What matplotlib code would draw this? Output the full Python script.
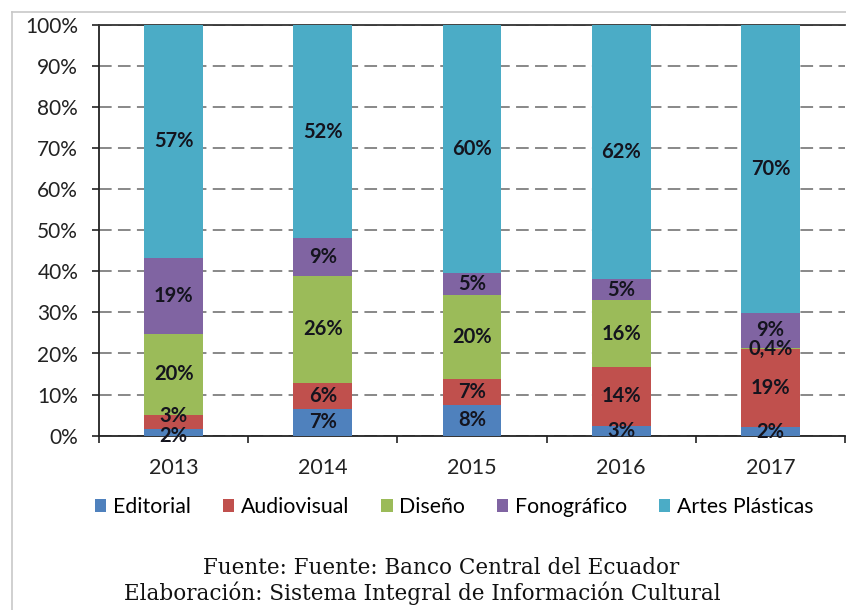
import numpy as np
import matplotlib
matplotlib.use("Agg")
import matplotlib.pyplot as plt
from matplotlib.lines import Line2D
from matplotlib.patches import Patch

plt.rcParams['font.family'] = ['Lato', 'DejaVu Sans']

# Datos (porcentaje de cada sector por año)
anios = ["2013", "2014", "2015", "2016", "2017"]
sectores = ["Editorial", "Audiovisual", "Diseño", "Fonográfico", "Artes Plásticas"]
editorial = [1.6, 6.5, 7.5, 2.4, 2.0]
audiovisual = [3.4, 6.4, 6.3, 14.4, 19.0]
diseno = [19.8, 26.0, 20.5, 16.1, 0.4]
fonografico = [18.5, 9.1, 5.3, 5.3, 8.4]
artes = [56.7, 52.0, 60.4, 61.8, 70.2]

# Etiquetas tal como aparecen en el gráfico
et_editorial = ["2%", "7%", "8%", "3%", "2%"]
et_audiovisual = ["3%", "6%", "7%", "14%", "19%"]
et_diseno = ["20%", "26%", "20%", "16%", "0,4%"]
et_fonografico = ["19%", "9%", "5%", "5%", "9%"]
et_artes = ["57%", "52%", "60%", "62%", "70%"]

colores = ["#4F81BD", "#C0504D", "#9BBB59", "#8064A2", "#4BACC6"]
series = [editorial, audiovisual, diseno, fonografico, artes]
etiquetas = [et_editorial, et_audiovisual, et_diseno, et_fonografico, et_artes]

# pequeños desplazamientos de etiquetas (serie, año) -> puntos de %
ajustes = {(0, 0): -0.9, (1, 0): 1.4}

fig = plt.figure(figsize=(8.46, 6.10), dpi=100)
ax = fig.add_axes([99/846, 1 - 435.7/610, (845 - 99)/846, (435.7 - 24.7)/610])

x = np.arange(len(anios))
base = np.zeros(len(anios))
for i, (vals, col, ets) in enumerate(zip(series, colores, etiquetas)):
    vals = np.array(vals)
    ax.bar(x, vals, width=0.395, bottom=base, color=col, zorder=3, linewidth=0)
    for j, (xi, b, v, t) in enumerate(zip(x, base, vals, ets)):
        ax.text(xi, b + v/2 + ajustes.get((i, j), 0), t, ha="center", va="center",
                fontsize=14.5, fontweight="bold", color="#14141e", zorder=4)
    base = base + vals

ax.set_xlim(-0.5, len(anios) - 0.5)
ax.set_ylim(0, 100)
ax.set_yticks(np.arange(0, 101, 10))
ax.set_yticklabels([f"{v}%" for v in range(0, 101, 10)])
ax.set_xticks(x)
ax.set_xticklabels(anios)
ax.set_xticks(np.arange(-0.5, len(anios)), minor=True)
ax.tick_params(axis="x", which="major", length=0, pad=16, labelsize=15.5, colors="#222222")
ax.tick_params(axis="x", which="minor", length=5, width=1.2, direction="out", color="#222222")
ax.tick_params(axis="y", length=5, width=1.2, pad=10, labelsize=15, colors="#222222")

ax.yaxis.grid(True, linestyle=(0, (7, 3.5)), color="#7f7f7f", linewidth=1.3, zorder=1)
ax.set_axisbelow(True)

for s in ["left", "bottom"]:
    ax.spines[s].set_linewidth(1.3)
    ax.spines[s].set_color("#222222")
ax.spines["top"].set_linewidth(1.3)
ax.spines["top"].set_color("#333333")
ax.spines["right"].set_visible(False)

# Leyenda
handles = [Patch(facecolor=c, edgecolor="none") for c in colores]
fig.legend(handles, sectores, loc="center", bbox_to_anchor=(454/846, 1 - 507/610),
           ncol=5, frameon=False, fontsize=15.3, handlelength=0.55, handleheight=0.55,
           handletextpad=0.3, columnspacing=1.5)

# Fuente
fig.text(441/846, 1 - 568/610, "Fuente: Fuente: Banco Central del Ecuador",
         ha="center", va="center", fontsize=15.5, family="DejaVu Serif", color="#111111")
fig.text(422/846, 1 - 593/610, "Elaboración: Sistema Integral de Información Cultural",
         ha="center", va="center", fontsize=15.5, family="DejaVu Serif", color="#111111")

# Marco exterior
fig.add_artist(Line2D([12/846, 12/846], [0, 1 - 12/610], transform=fig.transFigure,
                      color="#c8c8c8", linewidth=1.2))
fig.add_artist(Line2D([12/846, 1], [1 - 12/610, 1 - 12/610], transform=fig.transFigure,
                      color="#c8c8c8", linewidth=1.2))

fig.savefig("out.png", dpi=100)
